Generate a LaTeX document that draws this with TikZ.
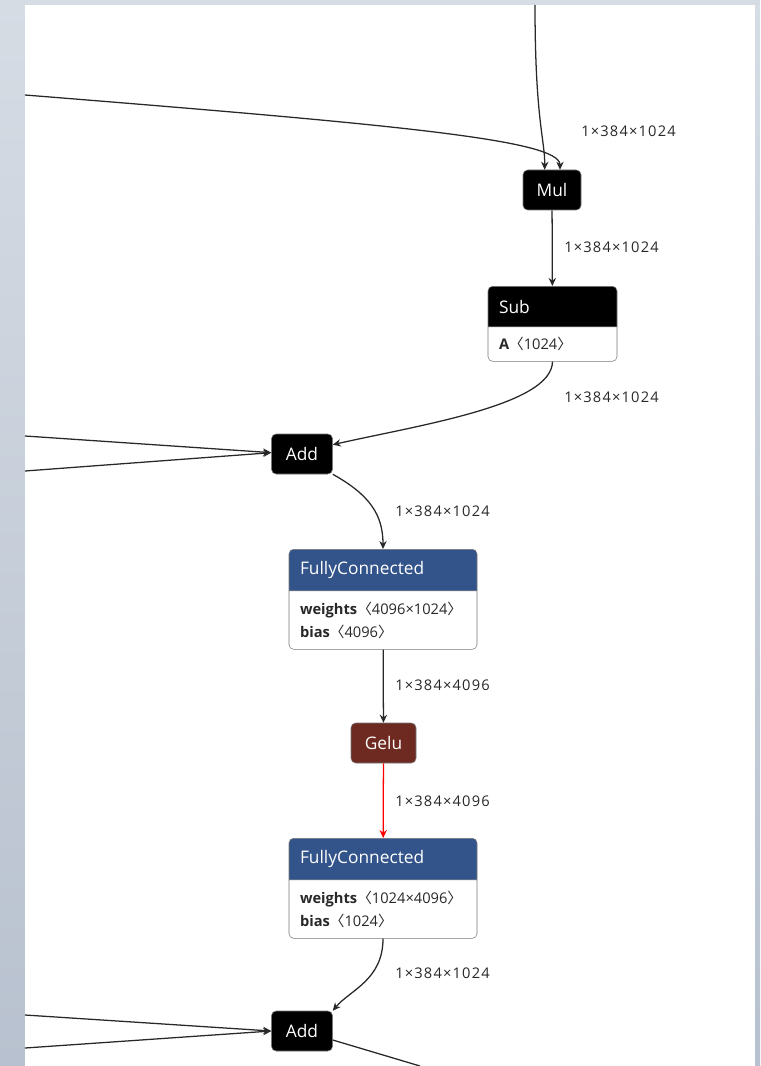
\documentclass[tikz,border=0pt]{standalone}
\usepackage{fontspec}
\setmainfont{Open Sans}
\newfontfamily\cjk{Noto Sans CJK SC}
\newfontfamily\lblfont[LetterSpace=8]{Open Sans}
\usetikzlibrary{arrows.meta,positioning,shapes.multipart}
\definecolor{NetBlue}{RGB}{50,84,138}
\definecolor{NetRed}{RGB}{110,42,32}
\definecolor{NetLine}{RGB}{40,40,40}
\definecolor{NetGray}{RGB}{120,120,120}
\definecolor{PaneTop}{RGB}{214,220,228}
\definecolor{PaneBot}{RGB}{184,193,207}
\newcommand\shp[1]{{\cjk 〈}#1{\cjk 〉}}
\newcommand\hdfont{\fontsize{13}{16}\selectfont\color{white}}
\newcommand\bdfont{\fontsize{11}{17.25}\selectfont\color{NetLine}}
\newcommand\cardpart[3]{\parbox[c][#2][c]{#1}{\raggedright#3}}

\begin{document}
\begin{tikzpicture}[x=0.75pt,y=-0.75pt,
  op/.style={draw=NetGray,rounded corners=3.5pt,fill=black,text=white,minimum height=30pt,inner sep=0pt,font=\fontsize{13}{16}\selectfont},
  card/.style={rectangle split,rectangle split parts=2,draw=NetGray,rounded corners=3.5pt,rectangle split part fill={#1,white},inner xsep=8.25pt,inner ysep=0pt,anchor=north},
  lbl/.style={anchor=west,text=NetLine,font=\lblfont\fontsize{11}{13}\selectfont,inner sep=0pt},
  wire/.style={draw=NetLine,line width=0.95pt,-{Stealth[length=6pt,width=5.5pt]}}]
\shade[top color=PaneTop,bottom color=PaneBot] (0,0) rectangle (760,1066);
\fill[white] (25,5) rectangle (755,1066);
\useasboundingbox (0,0) rectangle (760,1066);

% operators
\node[op,minimum width=43.5pt] (mul) at (552,190) {Mul};
\node[card=black] (sub) at (552.5,286)
  {\nodepart{one}\cardpart{80.25pt}{30pt}{\hdfont Sub}
   \nodepart{two}\cardpart{80.25pt}{25.5pt}{\bdfont\textbf{A}\shp{1024}}};
\node[op,minimum width=45.75pt] (add1) at (302,454) {Add};
\node[card=NetBlue] (fc1) at (383,549)
  {\nodepart{one}\cardpart{124.5pt}{30.75pt}{\hdfont FullyConnected}
   \nodepart{two}\cardpart{124.5pt}{43.5pt}{\bdfont\textbf{weights}\shp{4096×1024}\\\textbf{bias}\shp{4096}}};
\node[op,fill=NetRed,minimum width=48.75pt] (gelu) at (383.5,743) {Gelu};
\node[card=NetBlue] (fc2) at (383,838)
  {\nodepart{one}\cardpart{124.5pt}{30.75pt}{\hdfont FullyConnected}
   \nodepart{two}\cardpart{124.5pt}{43.5pt}{\bdfont\textbf{weights}\shp{1024×4096}\\\textbf{bias}\shp{1024}}};
\node[op,minimum width=45.75pt] (add2) at (302,1031) {Add};

% free ends
\coordinate (topin) at (535,5);
\coordinate (leftA) at (25,95);
\coordinate (leftB) at (25,436);
\coordinate (leftC) at (25,471);
\coordinate (leftD) at (25,1015);
\coordinate (leftE) at (25,1048);
\coordinate (outF) at (420,1066);

% edges
\draw[wire] (topin) .. controls (535,120) and (545,140) .. ([xshift=-5.5pt]mul.north);
\draw[wire] (leftA) .. controls (400,125) and (560,140) .. ([xshift=6pt]mul.north);
\draw[wire] (mul) -- (sub);
\draw[wire] (sub.south) .. controls (552,405) and (420,425) .. ([yshift=7pt]add1.east);
\draw[wire] (leftB) -- ([yshift=1pt]add1.west);
\draw[wire] (leftC) -- ([yshift=1pt]add1.west);
\draw[wire] (add1.south east) .. controls (370,495) and (383,515) .. (fc1.north);
\draw[wire] (fc1) -- (gelu);
\draw[wire,draw=red] (gelu) -- (fc2);
\draw[wire] (fc2.south) .. controls (383,980) and (350,990) .. (add2.north east);
\draw[wire] (leftD) -- (add2.west);
\draw[wire] (leftE) -- (add2.west);
\draw[draw=NetLine,line width=0.95pt] ([yshift=-6.75pt]add2.east) -- (outF);

% shapes
\node[lbl] (l1) at (581,131) {1×384×1024};
\node[lbl] (l2) at (564,247) {1×384×1024};
\node[lbl] (l3) at (564,397) {1×384×1024};
\node[lbl] (l4) at (395,511) {1×384×1024};
\node[lbl] (l5) at (395,685) {1×384×4096};
\node[lbl] (l6) at (395,801) {1×384×4096};
\node[lbl] (l7) at (395,973) {1×384×1024};
\end{tikzpicture}
\end{document}
